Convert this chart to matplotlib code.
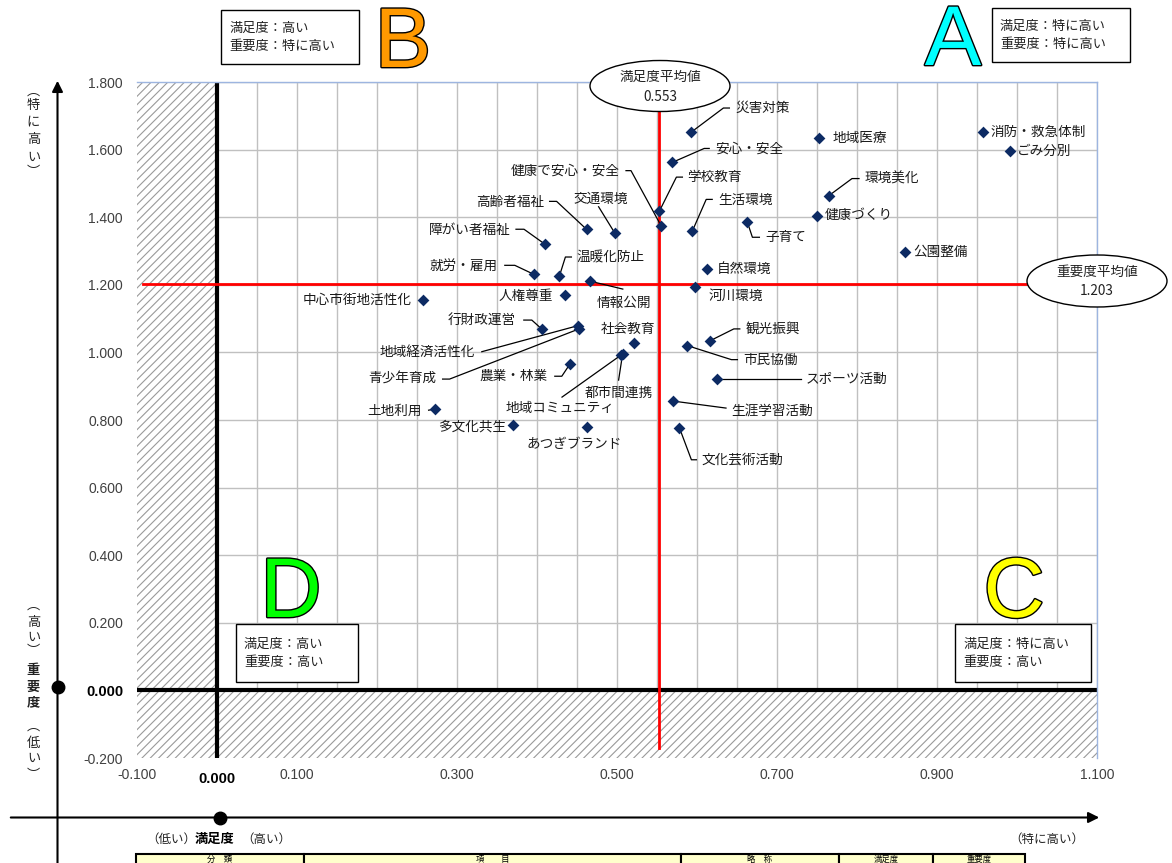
import matplotlib
matplotlib.use("Agg")
import matplotlib.pyplot as plt
from matplotlib.patches import Rectangle, Ellipse
from matplotlib.ticker import MultipleLocator
import matplotlib.patheffects as pe

plt.rcParams['font.family'] = ['Noto Sans CJK JP', 'DejaVu Sans']

# data: satisfaction (x) / importance (y) per item
items = ['災害対策', '安心・安全', '地域医療', '消防・救急体制', 'ごみ分別', '環境美化',
         '学校教育', '健康づくり', '健康で安心・安全', '交通環境', '高齢者福祉', '障がい者福祉',
         '就労・雇用', '温暖化防止', '情報公開', '河川環境', '自然環境', '公園整備',
         '子育て', '生活環境', '中心市街地活性化', '人権尊重', '行財政運営', '地域経済活性化',
         '青少年育成', '社会教育', '農業・林業', '都市間連携', '地域コミュニティ', '土地利用',
         '多文化共生', 'あつぎブランド', '観光振興', '市民協働', 'スポーツ活動', '生涯学習活動',
         '文化芸術活動']
satisfaction = [0.593, 0.569, 0.753, 0.958, 0.991, 0.765,
                0.553, 0.750, 0.555, 0.497, 0.462, 0.410,
                0.396, 0.428, 0.466, 0.598, 0.613, 0.860,
                0.663, 0.594, 0.258, 0.435, 0.406, 0.451,
                0.452, 0.521, 0.441, 0.507, 0.505, 0.272,
                0.370, 0.462, 0.616, 0.588, 0.625, 0.570,
                0.578]
importance = [1.652, 1.562, 1.635, 1.652, 1.596, 1.464,
              1.418, 1.404, 1.375, 1.354, 1.364, 1.320,
              1.231, 1.226, 1.211, 1.193, 1.248, 1.296,
              1.385, 1.358, 1.155, 1.170, 1.069, 1.079,
              1.069, 1.028, 0.965, 0.995, 0.992, 0.832,
              0.785, 0.780, 1.034, 1.020, 0.921, 0.856,
              0.777]
mean_satisfaction = 0.553
mean_importance = 1.203

x_ticks = [-0.1, 0.1, 0.3, 0.5, 0.7, 0.9, 1.1]
y_ticks = [-0.2, 0.0, 0.2, 0.4, 0.6, 0.8, 1.0, 1.2, 1.4, 1.6, 1.8]
table_header = ['分　類', '項　　目', '略　称', '満足度', '重要度']

# label placement in pixels from the marker (y down): dx, dy, ha, leader bends
label_pos = {
    '災害対策': (44, -24, 'left', [(32, -24), (38, -24)]),
    '安心・安全': (43, -14, 'left', [(32, -14), (37, -14)]),
    '地域医療': (13, 0, 'left', []),
    '消防・救急体制': (7, 0, 'left', []),
    'ごみ分別': (7, 0, 'left', []),
    '環境美化': (36, -17, 'left', [(23, -17), (30, -17)]),
    '学校教育': (28, -34, 'left', [(17, -34), (23, -34)]),
    '健康づくり': (8, -1, 'left', []),
    '健康で安心・安全': (-41, -55, 'right', [(-30, -55), (-35, -55)]),
    '交通環境': (-14, -34, 'center', [(-16, -26)]),
    '高齢者福祉': (-42, -27, 'right', [(-30, -28), (-37, -28)]),
    '障がい者福祉': (-34, -14, 'right', [(-21, -15), (-29, -15)]),
    '就労・雇用': (-36, -8, 'right', [(-19, -9), (-29, -9)]),
    '温暖化防止': (17, -19, 'left', [(6, -19), (12, -19)]),
    '情報公開': (34, 22, 'center', [(33, 8)]),
    '河川環境': (13, 9, 'left', []),
    '自然環境': (9, 0, 'left', []),
    '公園整備': (8, 0, 'left', []),
    '子育て': (18, 15, 'left', [(5, 15), (12, 15)]),
    '生活環境': (26, -31, 'left', [(14, -32), (20, -32)]),
    '中心市街地活性化': (-12, 0, 'right', []),
    '人権尊重': (-12, 1, 'right', []),
    '行財政運営': (-26, -8, 'right', [(-10, -9), (-18, -9)]),
    '地域経済活性化': (-103, 26, 'right', [(-96, 26)]),
    '青少年育成': (-142, 50, 'right', [(-129, 50), (-136, 50)]),
    '社会教育': (-6, -14, 'center', []),
    '農業・林業': (-22, 12, 'right', [(-8, 12), (-15, 12)]),
    '都市間連携': (-4, 39, 'center', [(-4, 26)]),
    '地域コミュニティ': (-61, 53, 'center', [(-59, 42)]),
    '土地利用': (-13, 2, 'right', [(-6, 1)]),
    '多文化共生': (-7, 1, 'right', []),
    'あつぎブランド': (-12, 17, 'center', []),
    '観光振興': (36, -12, 'left', [(24, -12), (30, -12)]),
    '市民協働': (56, 14, 'left', [(44, 14), (50, 14)]),
    'スポーツ活動': (89, 0, 'left', [(84, 0)]),
    '生涯学習活動': (58, 10, 'left', [(53, 7)]),
    '文化芸術活動': (22, 32, 'left', [(12, 32), (17, 32)]),
}

W, H = 1172, 863
fig = plt.figure(figsize=(W / 100, H / 100), dpi=100)
fig.patch.set_facecolor('white')
ax = fig.add_axes([137 / W, 1 - 758 / H, 960 / W, 676 / H])
ax.set_xlim(-0.1, 1.1)
ax.set_ylim(-0.2, 1.8)

ax.set_xticks(x_ticks, labels=[f'{v:.3f}' for v in x_ticks])
ax.set_yticks(y_ticks, labels=[f'{v:.3f}' for v in y_ticks])
ax.xaxis.set_minor_locator(MultipleLocator(0.05))
ax.tick_params(which='both', length=0)
ax.tick_params(axis='x', pad=7)
ax.tick_params(axis='y', pad=10)
for lab in ax.get_xticklabels() + ax.get_yticklabels():
    lab.set_fontfamily('Liberation Sans')
    lab.set_fontsize(10)
    lab.set_color('#404040')
for lab in ax.get_yticklabels():
    if lab.get_text() == '0.000':
        lab.set_fontweight('bold')
        lab.set_color('black')
        lab.set_fontsize(10.5)

ax.set_axisbelow(True)
ax.grid(which='both', axis='x', color='#c0c0c0', lw=1.0)
ax.grid(which='major', axis='y', color='#c0c0c0', lw=1.0)
for s in ['left', 'bottom']:
    ax.spines[s].set_visible(False)
for s in ['top', 'right']:
    ax.spines[s].set_color('#9db5e0')
    ax.spines[s].set_linewidth(1.0)

# hatched "low" zones
plt.rcParams['hatch.linewidth'] = 0.8
ax.add_patch(Rectangle((-0.1, -0.2), 0.1, 2.0, facecolor='white', edgecolor='#9a9a9a',
                       hatch='////', lw=0, zorder=1))
ax.add_patch(Rectangle((0, -0.2), 1.2, 0.2, facecolor='white', edgecolor='#9a9a9a',
                       hatch='////', lw=0, zorder=1))
ax.axvline(0, color='black', lw=3, zorder=2)
ax.axhline(0, color='black', lw=3, zorder=2)

# mean lines
ax.plot([mean_satisfaction, mean_satisfaction], [-0.17, 1.8], color='red', lw=2, zorder=3)
ax.plot([-0.0925, 1.1], [mean_importance, mean_importance], color='red', lw=2, zorder=3)

ax.scatter(satisfaction, importance, marker='D', s=36, color='#0c2a63', zorder=5, linewidths=0)


def shift(x, y, dx, dy):
    X, Y = ax.transData.transform((x, y))
    return ax.transData.inverted().transform((X + dx, Y - dy))


for name, x, y in zip(items, satisfaction, importance):
    dx, dy, ha, bends = label_pos[name]
    if bends:
        pts = [(x, y)] + [tuple(shift(x, y, bx, by)) for bx, by in bends]
        ax.plot([p[0] for p in pts], [p[1] for p in pts], color='black', lw=0.9, zorder=4,
                clip_on=False)
    ax.annotate(name, xy=(x, y), xytext=(dx, -dy), textcoords='offset pixels', ha=ha,
                va='center', fontsize=9.8, color='#1a1a1a', zorder=6, annotation_clip=False)

# overlay in pixel coordinates for the decorations around the chart
ov = fig.add_axes([0, 0, 1, 1], zorder=2)
ov.set_xlim(0, W)
ov.set_ylim(H, 0)
ov.axis('off')
ov.patch.set_alpha(0)

ov.text(217, 779, '0.000', ha='center', va='center', fontsize=10.5, fontweight='bold',
        family='Liberation Sans')

# quadrant boxes and letters
boxes = [((221, 10, 138, 54), '満足度：高い', '重要度：特に高い'),
         ((992, 8, 138, 54), '満足度：特に高い', '重要度：特に高い'),
         ((236, 624, 122, 58), '満足度：高い', '重要度：高い'),
         ((955, 624, 136, 58), '満足度：特に高い', '重要度：高い')]
for (bx, by, bw, bh), l1, l2 in boxes:
    ov.add_patch(Rectangle((bx, by), bw, bh, facecolor='white', edgecolor='black', lw=1))
    ov.text(bx + 8, by + bh / 2 - 9, l1, ha='left', va='center', fontsize=9.5, color='#222222')
    ov.text(bx + 8, by + bh / 2 + 9, l2, ha='left', va='center', fontsize=9.5, color='#222222')

letters = [('A', 953, 65, '#00ffff'), ('B', 403, 67, '#ff9900'),
           ('C', 1014, 617, '#ffff00'), ('D', 291, 617, '#00ff00')]
for ch, lx, ly, col in letters:
    ov.text(lx, ly, ch, ha='center', va='baseline', fontsize=61, color=col,
            family='Liberation Sans',
            path_effects=[pe.withStroke(linewidth=2, foreground='black')])

# mean value callouts
ov.add_patch(Ellipse((660, 86), 140, 51, facecolor='white', edgecolor='black', lw=1))
ov.text(660, 77, '満足度平均値', ha='center', va='center', fontsize=9.8, color='#222222')
ov.text(660, 97, f'{mean_satisfaction:.3f}', ha='center', va='center', fontsize=9.8, color='#222222')
ov.add_patch(Ellipse((1097, 281), 140, 52, facecolor='white', edgecolor='black', lw=1))
ov.text(1097, 272, '重要度平均値', ha='center', va='center', fontsize=9.8, color='#222222')
ov.text(1097, 291, f'{mean_importance:.3f}', ha='center', va='center', fontsize=9.8, color='#222222')

# outer axis arrows
ov.annotate('', xy=(57.5, 78), xytext=(57.5, H + 5),
            arrowprops=dict(arrowstyle='-|>', lw=1.5, color='black', mutation_scale=16))
ov.annotate('', xy=(1102, 817.5), xytext=(8, 817.5),
            arrowprops=dict(arrowstyle='-|>', lw=1.5, color='black', mutation_scale=16))
ov.plot([57.5, 220], [686.5, 817.5], 'o', ms=9, color='black', ls='none')


def vtext(x, chars, ys, **kw):
    for c, y in zip(chars, ys):
        ov.text(x, y, c, ha='center', va='center', fontsize=9.5, color='#222222', **kw)


vtext(33.5, '︵特に高い︶', [91, 105, 122, 140, 157, 173])
vtext(33.5, '︵高い︶', [605, 622, 637, 651])
vtext(33.5, '重要度', [670, 687, 702], fontweight='bold')
vtext(33.5, '︵低い︶', [726, 743, 758, 775])

ov.text(146, 839, '（低い）', ha='left', va='center', fontsize=9, color='#222222')
ov.text(195, 839, '満足度', ha='left', va='center', fontsize=9.5, fontweight='bold')
ov.text(241, 839, '（高い）', ha='left', va='center', fontsize=9, color='#222222')
ov.text(1084, 839, '（特に高い）', ha='right', va='center', fontsize=9, color='#222222')

# table header (cut by the page edge)
edges = [136, 304, 681, 839, 933, 1025]
for i, head in enumerate(table_header):
    ov.add_patch(Rectangle((edges[i], 854), edges[i + 1] - edges[i], 40, facecolor='#ffffcc',
                           edgecolor='black', lw=1.5))
    ov.text((edges[i] + edges[i + 1]) / 2, 859, head, ha='center', va='center', fontsize=6)

fig.savefig('out.png', dpi=100)
